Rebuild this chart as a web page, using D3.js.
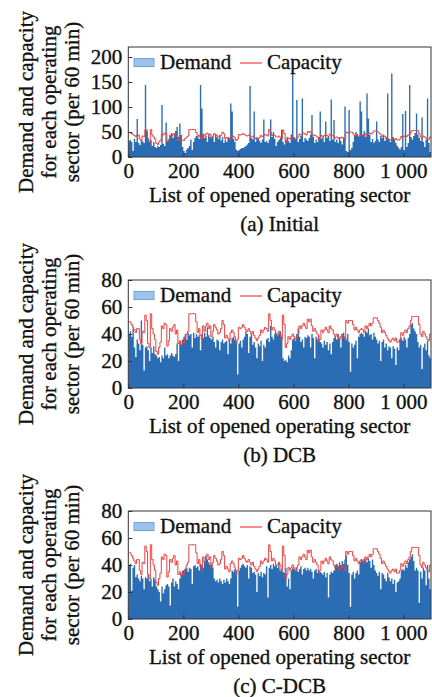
<!DOCTYPE html>
<html>
<head>
<meta charset="utf-8">
<script src="https://cdn.jsdelivr.net/npm/d3@7"></script>
<style>
  body { margin: 0; background: #fff; }
  svg { display: block; }
  svg text { stroke: #111; stroke-width: 0.35px; }
</style>
</head>
<body>
<svg id="svg"></svg>
<script>
// demand per bin of 5 sectors (sector 0, 5, 10 ... 1095)
const demandInitial = [
  32, 34, 30, 12, 36, 30, 76, 28, 24, 33,
  31, 28, 144, 55, 38, 30, 34, 22, 30, 20,
  18, 22, 20, 24, 104, 26, 22, 69, 30, 35,
  42, 48, 38, 45, 52, 60, 40, 67, 44, 20,
  12, 8, 15, 18, 22, 35, 14, 30, 38, 42,
  40, 36, 144, 97, 45, 38, 42, 30, 44, 40,
  38, 42, 30, 45, 40, 36, 44, 33, 40, 28,
  35, 30, 40, 38, 107, 91, 36, 30, 15, 12,
  14, 16, 18, 18, 20, 22, 25, 28, 142, 38,
  35, 91, 30, 40, 38, 32, 28, 35, 75, 30,
  32, 28, 35, 75, 40, 50, 36, 22, 30, 34,
  38, 55, 30, 25, 35, 40, 32, 28, 45, 168,
  40, 35, 114, 30, 36, 42, 117, 30, 38, 35,
  32, 38, 45, 84, 40, 28, 35, 30, 40, 91,
  36, 42, 30, 71, 38, 40, 32, 115, 35, 74,
  30, 35, 28, 40, 32, 25, 38, 101, 12, 10,
  94, 14, 18, 30, 42, 50, 46, 40, 111, 91,
  45, 52, 40, 127, 77, 44, 30, 36, 28, 32,
  71, 35, 30, 42, 38, 45, 32, 40, 127, 36,
  30, 167, 40, 35, 28, 22, 18, 15, 20, 86,
  14, 92, 20, 28, 144, 40, 35, 42, 48, 87,
  45, 38, 32, 79, 30, 20, 35, 117, 28, 10
];

const demandDCB = [
  40, 42, 38, 44, 30, 23, 36, 33, 28, 50,
  32, 13, 30, 31, 28, 20, 30, 26, 31, 25,
  24, 22, 23, 19, 24, 22, 30, 24, 25, 22,
  24, 26, 24, 23, 25, 33, 20, 34, 32, 36,
  38, 40, 36, 41, 39, 40, 30, 41, 37, 40,
  38, 39, 28, 40, 37, 41, 38, 45, 39, 37,
  36, 38, 34, 30, 36, 35, 28, 34, 36, 33,
  34, 35, 25, 36, 33, 37, 38, 36, 35, 10,
  33, 35, 30, 36, 38, 42, 40, 26, 38, 40,
  32, 34, 30, 22, 33, 31, 35, 20, 32, 30,
  36, 37, 34, 46, 38, 36, 40, 41, 39, 40,
  42, 38, 22, 20, 21, 19, 24, 22, 28, 36,
  37, 35, 40, 44, 38, 34, 36, 30, 38, 37,
  39, 38, 30, 40, 37, 22, 38, 36, 39, 34,
  33, 30, 35, 32, 34, 28, 33, 25, 34, 37,
  38, 36, 40, 37, 30, 39, 41, 38, 36, 40,
  34, 12, 33, 30, 32, 35, 22, 38, 40, 41,
  40, 38, 42, 41, 44, 39, 40, 36, 41, 38,
  36, 33, 35, 20, 34, 36, 30, 33, 28, 31,
  30, 22, 31, 29, 17, 30, 28, 36, 37, 35,
  38, 36, 30, 37, 40, 47, 48, 44, 42, 40,
  34, 30, 32, 14, 30, 33, 28, 35, 24, 22
];

const demandCDCB = [
  40, 41, 21, 38, 40, 31, 33, 30, 28, 32,
  30, 22, 31, 30, 33, 28, 30, 24, 31, 29,
  24, 22, 20, 13, 24, 19, 22, 25, 26, 24,
  10, 27, 30, 24, 28, 26, 22, 30, 33, 36,
  36, 37, 38, 35, 38, 37, 26, 39, 40, 38,
  39, 36, 41, 40, 38, 43, 47, 44, 42, 40,
  41, 38, 30, 28, 29, 27, 30, 28, 26, 29,
  27, 30, 28, 26, 30, 36, 35, 37, 36, 9,
  36, 38, 40, 41, 39, 38, 40, 30, 39, 38,
  34, 35, 33, 20, 34, 32, 35, 31, 34, 33,
  39, 16, 38, 40, 37, 41, 39, 40, 38, 42,
  36, 37, 35, 34, 38, 24, 30, 22, 36, 38,
  37, 36, 38, 35, 37, 39, 33, 37, 38, 36,
  38, 36, 37, 35, 30, 36, 37, 34, 36, 35,
  34, 33, 35, 31, 34, 16, 33, 35, 34, 36,
  40, 41, 39, 42, 40, 43, 41, 44, 47, 40,
  34, 9, 33, 35, 30, 34, 36, 33, 42, 44,
  43, 45, 44, 42, 45, 43, 38, 44, 40, 36,
  34, 32, 35, 22, 34, 33, 30, 28, 34, 31,
  28, 30, 26, 29, 20, 27, 28, 30, 36, 37,
  36, 40, 38, 42, 44, 46, 48, 43, 36, 38,
  36, 12, 35, 30, 38, 36, 25, 40, 30, 22
];

// capacity per bin of 5 sectors, same in the three cases
const capacity = [
  49, 49, 47, 45, 43, 41, 44, 44, 36, 33,
  42, 41, 54, 50, 33, 30, 55, 44, 40, 36,
  27, 25, 30, 34, 46, 44, 48, 47, 31, 35,
  44, 42, 45, 47, 40, 43, 33, 35, 32, 34,
  33, 37, 40, 42, 55, 55, 55, 55, 55, 49,
  41, 44, 39, 36, 46, 42, 46, 48, 44, 46,
  38, 42, 47, 45, 43, 40, 41, 44, 50, 47,
  37, 39, 37, 35, 41, 43, 41, 38, 33, 36,
  45, 44, 45, 47, 45, 43, 42, 44, 42, 40,
  42, 39, 37, 35, 37, 39, 43, 41, 43, 45,
  44, 42, 55, 50, 43, 45, 43, 40, 40, 42,
  40, 36, 54, 47, 30, 33, 38, 36, 38, 40,
  38, 36, 38, 40, 46, 44, 46, 48, 46, 44,
  51, 49, 51, 46, 42, 44, 42, 40, 34, 36,
  43, 41, 43, 45, 43, 41, 46, 44, 43, 40,
  38, 40, 38, 36, 38, 40, 38, 36, 50, 48,
  50, 50, 50, 47, 43, 45, 43, 41, 43, 44,
  43, 41, 46, 44, 46, 48, 46, 48, 52, 52,
  52, 50, 48, 45, 41, 43, 41, 39, 37, 35,
  34, 36, 37, 35, 37, 34, 34, 36, 41, 39,
  41, 43, 41, 44, 46, 50, 53, 53, 53, 53,
  53, 47, 40, 38, 42, 40, 38, 36, 35, 40
];

const xTicks = [0, 200, 400, 600, 800, 1000];
const xTickLabels = ["0", "200", "400", "600", "800", "1 000"];
const yTicksInitial = [0, 50, 100, 150, 200];
const yTicksOther = [0, 20, 40, 60, 80];
const captions = ["(a) Initial", "(b) DCB", "(c) C-DCB"];
const yTitleLines = ["Demand and capacity", "for each operating", "sector (per 60 min)"];
const legendLabels = ["Demand", "Capacity"];

const demandBin = 5;
const capacityBin = 5;
const sectorMax = 1100;

let layout = {
  width: 432,
  height: 697,
  left: 128.3,
  right: 431
};

let panels = [
  {demand: demandInitial, yMax: 220, yTicks: yTicksInitial, top: 47, bottom: 157, caption: captions[0]},
  {demand: demandDCB, yMax: 80, yTicks: yTicksOther, top: 280, bottom: 388, caption: captions[1]},
  {demand: demandCDCB, yMax: 80, yTicks: yTicksOther, top: 511, bottom: 619, caption: captions[2]}
];

const font = "'Liberation Serif', 'Times New Roman', serif";
const fontSize = 21;
const axisColor = "#333";
const textColor = "#111";
const blue = "#2a6db5";
const red = "#f0403f";

let svg = d3.select("#svg")
  .attr("width", layout.width)
  .attr("height", layout.height)
  .attr("font-family", font);

let xScale = d3.scaleLinear()
  .domain([0, sectorMax])
  .range([layout.left, layout.right]);

// step points: each bin value holds until the next bin, closed at sectorMax
function steps(values, bin) {
  let pts = values.map((v, i) => ({s: i * bin, v: v}));
  pts.push({s: sectorMax, v: values[values.length - 1]});
  return pts;
}

let capacityPts = steps(capacity, capacityBin);

panels.forEach((p, idx) => {
  let g = svg.append("g");

  let yScale = d3.scaleLinear()
    .domain([0, p.yMax])
    .range([p.bottom, p.top]);

  let clipId = "clip" + idx;
  g.append("clipPath").attr("id", clipId)
    .append("rect")
    .attr("x", layout.left)
    .attr("y", p.top)
    .attr("width", layout.right - layout.left)
    .attr("height", p.bottom - p.top);

  let marks = g.append("g").attr("clip-path", `url(#${clipId})`);

  // demand bars as one stepped area
  let area = d3.area()
    .x(d => xScale(d.s))
    .y0(yScale(0))
    .y1(d => yScale(d.v))
    .curve(d3.curveStepAfter);

  marks.append("path")
    .datum(steps(p.demand, demandBin))
    .attr("fill", blue)
    .attr("d", area);

  let line = d3.line()
    .x(d => xScale(d.s))
    .y(d => yScale(d.v))
    .curve(d3.curveStepAfter);

  marks.append("path")
    .datum(capacityPts)
    .attr("fill", "none")
    .attr("stroke", red)
    .attr("stroke-width", 1)
    .attr("d", line);

  // frame
  g.append("rect")
    .attr("x", layout.left)
    .attr("y", p.top)
    .attr("width", layout.right - layout.left)
    .attr("height", p.bottom - p.top)
    .attr("fill", "none")
    .attr("stroke", axisColor)
    .attr("stroke-width", 1);

  // x axis, ticks pointing inward
  let xAxis = g.append("g")
    .attr("transform", `translate(0, ${p.bottom})`)
    .call(d3.axisBottom(xScale)
      .tickValues(xTicks)
      .tickSizeInner(-4)
      .tickSizeOuter(0)
      .tickFormat((d, i) => xTickLabels[i]));
  xAxis.attr("font-family", font);
  xAxis.select(".domain").remove();
  xAxis.selectAll("line").attr("stroke", axisColor);
  xAxis.selectAll("text")
    .attr("font-family", font)
    .attr("font-size", fontSize)
    .attr("fill", textColor)
    .attr("dy", "0.71em")
    .attr("y", 6);

  let yAxis = g.append("g")
    .attr("transform", `translate(${layout.left}, 0)`)
    .call(d3.axisLeft(yScale)
      .tickValues(p.yTicks)
      .tickSizeInner(-4)
      .tickSizeOuter(0));
  yAxis.attr("font-family", font);
  yAxis.select(".domain").remove();
  yAxis.selectAll("line").attr("stroke", axisColor);
  yAxis.selectAll("text")
    .attr("font-family", font)
    .attr("font-size", fontSize)
    .attr("fill", textColor)
    .attr("x", -6);

  // axis titles
  g.append("text")
    .attr("x", (layout.left + layout.right) / 2)
    .attr("y", p.bottom + 45)
    .attr("text-anchor", "middle")
    .attr("font-size", fontSize)
    .attr("fill", textColor)
    .text("List of opened operating sector");

  let yMid = (p.top + p.bottom) / 2;
  let titleX = [33, 56, 79];
  g.selectAll(".ytitle")
    .data(yTitleLines)
    .join("text")
    .attr("class", "ytitle")
    .attr("transform", (d, i) => `translate(${titleX[i]}, ${yMid}) rotate(-90)`)
    .attr("text-anchor", "middle")
    .attr("font-size", fontSize)
    .attr("fill", textColor)
    .text(d => d);

  g.append("text")
    .attr("x", (layout.left + layout.right) / 2)
    .attr("y", p.bottom + 74)
    .attr("text-anchor", "middle")
    .attr("font-size", fontSize)
    .attr("fill", textColor)
    .text(p.caption);

  // legend
  let leg = g.append("g").attr("transform", `translate(0, ${p.top})`);
  leg.append("rect")
    .attr("x", 134)
    .attr("y", 11.5)
    .attr("width", 20)
    .attr("height", 8)
    .attr("fill", "#9dc3e8")
    .attr("stroke", "#6fa3d8")
    .attr("stroke-width", 1);
  leg.append("text")
    .attr("x", 160)
    .attr("y", 22)
    .attr("font-size", fontSize)
    .attr("fill", textColor)
    .text(legendLabels[0]);
  leg.append("line")
    .attr("x1", 240)
    .attr("x2", 262)
    .attr("y1", 16)
    .attr("y2", 16)
    .attr("stroke", red)
    .attr("stroke-width", 1.2);
  leg.append("text")
    .attr("x", 267)
    .attr("y", 22)
    .attr("font-size", fontSize)
    .attr("fill", textColor)
    .text(legendLabels[1]);
});
</script>
</body>
</html>
